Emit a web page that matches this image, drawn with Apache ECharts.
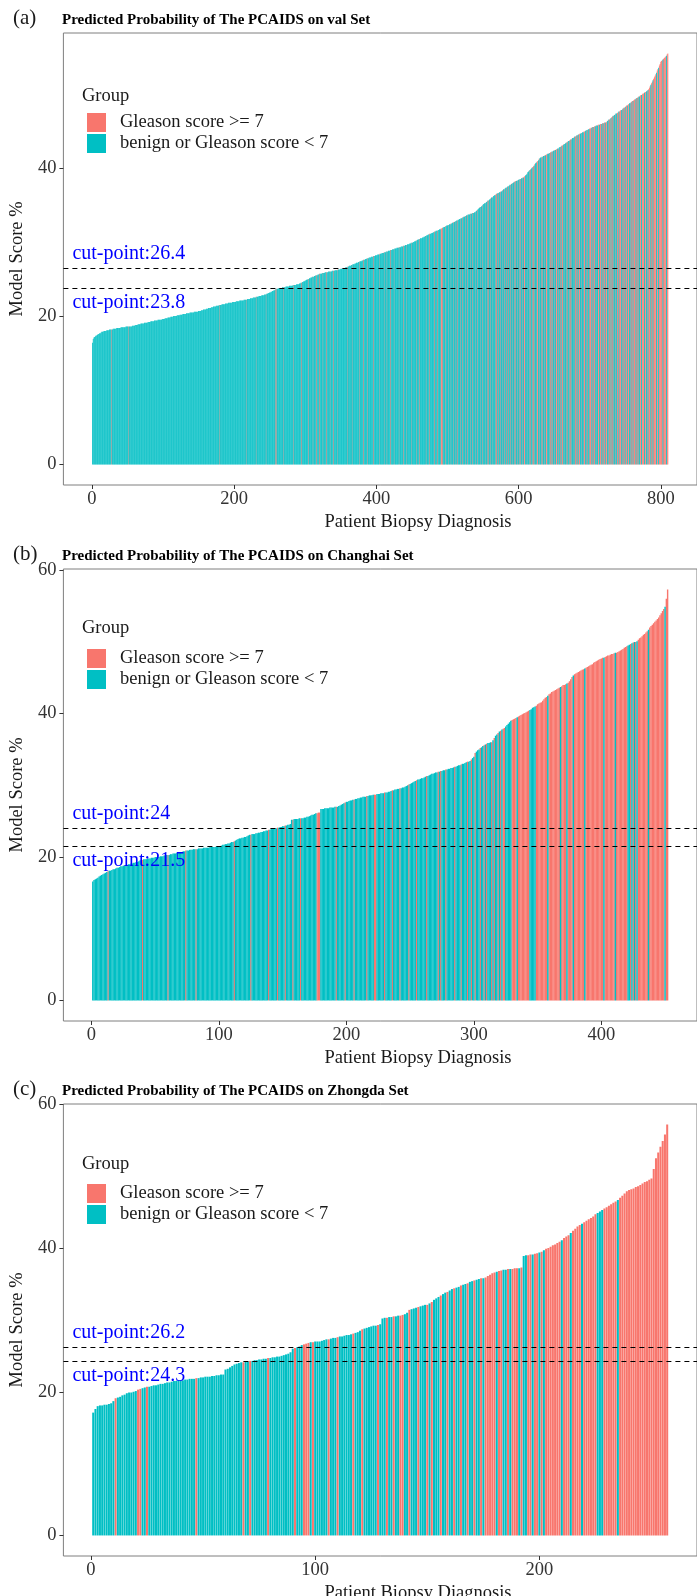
<!DOCTYPE html>
<html>
<head>
<meta charset="utf-8">
<script src="https://cdn.jsdelivr.net/npm/echarts@6.0.0/dist/echarts.min.js"></script>
<style>
  html, body { margin: 0; padding: 0; background: #fff; }
  #main { width: 697px; height: 1596px; }
</style>
</head>
<body>
<div id="main"></div>
<script>
// ---- data: model score (%) per patient, sorted ascending ----
const valScores = [
16.4,16.9,17.1,17.2,17.3,17.4,17.4,17.5,17.6,17.6,
17.7,17.7,17.8,17.9,17.9,17.9,18.0,18.0,18.0,18.0,
18.1,18.1,18.1,18.1,18.2,18.2,18.2,18.2,18.2,18.3,
18.3,18.3,18.3,18.3,18.4,18.4,18.4,18.4,18.4,18.4,
18.5,18.5,18.5,18.5,18.5,18.5,18.5,18.6,18.6,18.6,
18.6,18.6,18.6,18.6,18.6,18.6,18.7,18.7,18.7,18.7,
18.8,18.8,18.8,18.8,18.9,18.9,18.9,18.9,19.0,19.0,
19.0,19.0,19.0,19.1,19.1,19.1,19.1,19.1,19.2,19.2,
19.2,19.2,19.3,19.3,19.3,19.3,19.3,19.4,19.4,19.4,
19.4,19.4,19.5,19.5,19.5,19.5,19.5,19.5,19.6,19.6,
19.6,19.6,19.7,19.7,19.7,19.7,19.8,19.8,19.8,19.8,
19.9,19.9,19.9,19.9,20.0,20.0,20.0,20.0,20.0,20.1,
20.1,20.1,20.1,20.2,20.2,20.2,20.2,20.3,20.3,20.3,
20.3,20.3,20.4,20.4,20.4,20.4,20.4,20.5,20.5,20.5,
20.5,20.5,20.5,20.6,20.6,20.6,20.6,20.6,20.6,20.7,
20.7,20.7,20.7,20.8,20.8,20.8,20.9,20.9,20.9,20.9,
21.0,21.0,21.0,21.1,21.1,21.1,21.1,21.2,21.2,21.2,
21.3,21.3,21.3,21.3,21.4,21.4,21.4,21.4,21.5,21.5,
21.5,21.5,21.6,21.6,21.6,21.6,21.6,21.7,21.7,21.7,
21.7,21.8,21.8,21.8,21.8,21.8,21.8,21.9,21.9,21.9,
21.9,21.9,22.0,22.0,22.0,22.0,22.0,22.1,22.1,22.1,
22.1,22.1,22.1,22.2,22.2,22.2,22.2,22.2,22.3,22.3,
22.3,22.3,22.4,22.4,22.4,22.4,22.5,22.5,22.5,22.5,
22.6,22.6,22.6,22.6,22.7,22.7,22.7,22.7,22.8,22.8,
22.8,22.8,22.9,22.9,22.9,23.0,23.0,23.1,23.1,23.2,
23.2,23.3,23.3,23.4,23.4,23.5,23.5,23.6,23.7,23.7,
23.7,23.7,23.8,23.8,23.8,23.8,23.8,23.9,23.9,23.9,
23.9,23.9,24.0,24.0,24.0,24.0,24.0,24.1,24.1,24.1,
24.1,24.1,24.2,24.2,24.2,24.2,24.2,24.3,24.3,24.3,
24.3,24.4,24.4,24.5,24.5,24.6,24.6,24.7,24.7,24.8,
24.8,24.9,24.9,25.0,25.0,25.1,25.1,25.2,25.2,25.3,
25.3,25.3,25.4,25.4,25.5,25.5,25.5,25.6,25.6,25.7,
25.7,25.7,25.7,25.8,25.8,25.8,25.8,25.9,25.9,25.9,
25.9,25.9,26.0,26.0,26.0,26.0,26.0,26.1,26.1,26.1,
26.1,26.2,26.2,26.2,26.2,26.3,26.3,26.3,26.3,26.4,
26.4,26.4,26.4,26.5,26.5,26.5,26.6,26.6,26.6,26.7,
26.7,26.8,26.8,26.8,26.9,26.9,27.0,27.0,27.0,27.1,
27.1,27.2,27.2,27.2,27.3,27.3,27.4,27.4,27.4,27.5,
27.5,27.6,27.6,27.6,27.7,27.7,27.8,27.8,27.8,27.9,
27.9,27.9,28.0,28.0,28.0,28.1,28.1,28.1,28.2,28.2,
28.2,28.3,28.3,28.3,28.4,28.4,28.4,28.5,28.5,28.5,
28.6,28.6,28.6,28.7,28.7,28.7,28.8,28.8,28.8,28.9,
28.9,28.9,29.0,29.0,29.0,29.1,29.1,29.1,29.2,29.2,
29.2,29.3,29.3,29.3,29.4,29.4,29.4,29.5,29.5,29.5,
29.6,29.6,29.6,29.7,29.7,29.7,29.8,29.8,29.9,29.9,
29.9,30.0,30.0,30.1,30.1,30.2,30.2,30.3,30.3,30.4,
30.4,30.5,30.5,30.5,30.6,30.6,30.7,30.7,30.8,30.8,
30.9,30.9,31.0,31.0,31.1,31.1,31.1,31.2,31.2,31.3,
31.3,31.4,31.4,31.5,31.5,31.5,31.6,31.6,31.7,31.7,
31.8,31.8,31.9,31.9,32.0,32.0,32.1,32.1,32.2,32.2,
32.3,32.3,32.4,32.4,32.5,32.5,32.6,32.6,32.7,32.7,
32.8,32.8,32.9,32.9,33.0,33.0,33.1,33.1,33.2,33.2,
33.3,33.3,33.4,33.4,33.5,33.5,33.6,33.6,33.7,33.7,
33.7,33.8,33.8,33.8,33.9,33.9,33.9,34.0,34.0,34.1,
34.2,34.3,34.4,34.5,34.6,34.7,34.7,34.8,34.9,35.0,
35.1,35.2,35.2,35.3,35.4,35.5,35.6,35.6,35.7,35.8,
35.9,36.0,36.0,36.1,36.2,36.3,36.3,36.4,36.5,36.5,
36.6,36.6,36.7,36.7,36.8,36.8,36.9,37.0,37.1,37.1,
37.2,37.3,37.3,37.4,37.5,37.5,37.6,37.7,37.7,37.8,
37.9,37.9,38.0,38.1,38.1,38.2,38.2,38.3,38.3,38.4,
38.4,38.5,38.5,38.6,38.6,38.7,38.7,38.8,38.9,39.0,
39.1,39.2,39.4,39.5,39.6,39.7,39.8,39.9,40.0,40.1,
40.2,40.3,40.5,40.6,40.7,40.8,40.9,41.0,41.2,41.3,
41.4,41.4,41.5,41.5,41.6,41.6,41.7,41.7,41.8,41.8,
41.9,41.9,42.0,42.0,42.1,42.1,42.2,42.2,42.3,42.3,
42.4,42.4,42.5,42.5,42.6,42.6,42.7,42.8,42.8,42.9,
43.0,43.0,43.1,43.2,43.2,43.3,43.4,43.4,43.5,43.6,
43.6,43.7,43.8,43.8,43.9,44.0,44.0,44.1,44.2,44.2,
44.3,44.4,44.4,44.5,44.5,44.6,44.6,44.7,44.7,44.8,
44.8,44.9,44.9,45.0,45.0,45.1,45.1,45.2,45.2,45.3,
45.3,45.4,45.4,45.5,45.5,45.5,45.6,45.6,45.7,45.7,
45.7,45.8,45.8,45.8,45.9,45.9,45.9,46.0,46.0,46.0,
46.1,46.1,46.1,46.2,46.3,46.4,46.5,46.5,46.6,46.7,
46.8,46.9,47.0,47.0,47.1,47.2,47.3,47.3,47.4,47.5,
47.6,47.6,47.7,47.8,47.8,47.9,48.0,48.1,48.1,48.2,
48.3,48.4,48.4,48.5,48.6,48.7,48.7,48.8,48.9,49.0,
49.0,49.1,49.2,49.2,49.3,49.4,49.4,49.5,49.6,49.6,
49.7,49.8,49.8,49.9,50.0,50.0,50.1,50.2,50.2,50.3,
50.4,50.5,50.6,50.8,51.0,51.2,51.4,51.6,51.8,52.0,
52.2,52.4,52.6,52.8,53.1,53.3,53.5,53.8,54.0,54.3,
54.4,54.5,54.6,54.7,54.8,54.9,55.0,55.1,55.3,55.4
];
// 1 = Gleason score >= 7, 0 = benign or Gleason score < 7
const valGroup = [
'0000000000','0000000000','0000000100','0000000000','0000000000',
'0100000000','0000000000','0000000000','0000000000','0000000000',
'0000000000','0000000000','0000000000','0000000000','0000000000',
'0000000000','0000000000','0000000001','0000000000','0000000000',
'0000000000','0000001000','0000000000','1000000000','0000100000',
'0000000101','0000000001','0000000000','0001000000','0000100000',
'0000100000','1000010001','0000100001','0000100001','0000010000',
'0000000001','0000010000','0000010000','0100000100','0000010000',
'0000100000','1000100001','0000100000','0100000100','0010000001',
'0000001000','1000000001','0000100000','0100010000','1110001000',
'0100100010','0101000100','1000100100','0100100010','0100010010',
'0010010100','1001000110','0100100101','0010010010','1001010010',
'1010010110','0100101001','1010011010','0101001011','0010110100',
'1011010010','1101001010','0110100101','1010110010','0110101001',
'1101011010','0110110101','1011010110','1101010011','0111010110',
'1101101011','0111011010','1101110110','1011101101','1110110111',
'1101111011'
].join('');
const valCuts = [26.4, 23.8];
const valXTicks = [0, 200, 400, 600, 800];
const valYTicks = [0, 20, 40];

const chScores = [
16.6,16.8,16.9,17.0,17.1,17.3,17.4,17.5,17.6,17.7,
17.8,17.9,18.0,18.1,18.1,18.2,18.3,18.3,18.4,18.5,
18.5,18.6,18.7,18.7,18.8,18.8,18.9,18.9,19.0,19.0,
19.1,19.1,19.2,19.2,19.3,19.3,19.4,19.5,19.6,19.6,
19.7,19.7,19.7,19.8,19.8,19.8,19.9,19.9,19.9,20.0,
20.0,20.0,20.0,20.1,20.1,20.1,20.2,20.2,20.3,20.3,
20.3,20.4,20.4,20.5,20.5,20.5,20.6,20.6,20.7,20.7,
20.7,20.8,20.8,20.9,20.9,20.9,21.0,21.0,21.0,21.1,
21.1,21.1,21.1,21.2,21.2,21.2,21.2,21.3,21.3,21.3,
21.3,21.3,21.4,21.4,21.4,21.4,21.4,21.5,21.5,21.5,
21.5,21.6,21.7,21.7,21.8,21.8,21.9,21.9,22.0,22.1,
22.1,22.2,22.3,22.4,22.5,22.6,22.6,22.7,22.7,22.8,
22.8,22.9,23.0,23.1,23.1,23.2,23.2,23.2,23.3,23.3,
23.4,23.4,23.5,23.5,23.6,23.6,23.7,23.7,23.8,23.8,
23.9,23.9,24.0,24.0,24.0,24.1,24.1,24.2,24.2,24.3,
24.3,24.4,24.4,24.5,24.5,24.6,25.2,25.2,25.3,25.3,
25.3,25.3,25.4,25.4,25.4,25.4,25.5,25.5,25.6,25.6,
25.7,25.8,25.9,25.9,26.0,26.1,26.1,26.2,26.2,26.7,
26.7,26.7,26.8,26.8,26.8,26.8,26.9,26.9,26.9,26.9,
27.0,27.0,27.0,27.1,27.2,27.3,27.4,27.5,27.6,27.7,
27.7,27.8,27.9,27.9,28.0,28.0,28.1,28.1,28.2,28.2,
28.3,28.3,28.4,28.4,28.4,28.5,28.5,28.6,28.6,28.6,
28.7,28.7,28.7,28.8,28.8,28.8,28.9,28.9,28.9,29.0,
29.0,29.0,29.1,29.1,29.2,29.3,29.3,29.4,29.4,29.5,
29.5,29.6,29.6,29.7,29.7,29.8,29.9,30.0,30.1,30.2,
30.3,30.4,30.5,30.6,30.7,30.8,30.8,30.9,31.0,31.0,
31.1,31.2,31.3,31.3,31.4,31.5,31.6,31.6,31.7,31.8,
31.8,31.9,31.9,32.0,32.0,32.1,32.1,32.2,32.2,32.3,
32.3,32.4,32.4,32.5,32.6,32.6,32.7,32.8,32.8,32.9,
33.0,33.0,33.1,33.2,33.3,33.3,33.4,33.6,33.8,34.0,
34.5,34.7,34.9,35.0,35.2,35.3,35.5,35.6,35.7,35.8,
35.9,35.9,36.0,36.0,36.3,36.6,36.9,37.1,37.3,37.5,
37.6,37.8,37.9,38.0,38.2,38.4,38.6,38.8,39.0,39.1,
39.2,39.3,39.4,39.5,39.6,39.7,39.8,39.9,40.0,40.1,
40.2,40.3,40.4,40.5,40.6,40.8,40.9,41.0,41.1,41.3,
41.4,41.5,41.6,41.8,42.0,42.2,42.3,42.5,42.7,42.8,
43.0,43.1,43.2,43.3,43.4,43.5,43.6,43.7,43.8,44.0,
44.0,44.1,44.2,44.3,44.5,44.8,45.1,45.3,45.5,45.6,
45.7,45.8,45.9,46.0,46.1,46.2,46.3,46.4,46.5,46.6,
46.7,46.8,46.9,47.1,47.2,47.3,47.4,47.5,47.6,47.7,
47.8,47.8,47.9,48.0,48.1,48.1,48.2,48.3,48.3,48.4,
48.5,48.5,48.6,48.7,48.8,48.9,49.0,49.2,49.3,49.4,
49.5,49.6,49.7,49.8,49.9,50.0,50.0,50.1,50.3,50.5,
50.6,50.8,51.0,51.1,51.3,51.5,51.7,52.0,52.2,52.4,
52.6,52.8,53.0,53.2,53.4,53.7,54.0,54.3,54.6,54.9,
56.0,57.3
];
const chGroup = [
'0000000000','0010000000','0000000000','0000000001','0000000000',
'0000000001','0000000000','0001000000','0100000000','0000000000',
'0000000000','0100000000','0000100000','0000000010','0000010000',
'0100000100','0001000000','0000001110','0000000000','0100000010',
'0000010000','0000010000','0110000001','0000010000','0100000010',
'0000100000','0010000000','0101000100','0000100001','0000100100',
'1000100101','0001010010','1011000001','1110111111','1110000011',
'1111111011','1111111011','1101111011','1111110111','1111111111',
'1011111111','0111111111','0010101011','1111110111','1111111110',
'11'
].join('');
const chCuts = [24, 21.5];
const chXTicks = [0, 100, 200, 300, 400];
const chYTicks = [0, 20, 40, 60];

const zdScores = [
17.1,17.6,18.0,18.1,18.1,18.2,18.2,18.3,18.4,18.7,
19.1,19.2,19.3,19.5,19.6,19.8,19.9,19.9,20.0,20.1,
20.3,20.4,20.5,20.6,20.7,20.7,20.8,20.9,20.9,21.0,
21.1,21.1,21.2,21.3,21.3,21.4,21.5,21.5,21.6,21.6,
21.6,21.7,21.7,21.8,21.8,21.8,21.9,21.9,22.0,22.0,
22.1,22.1,22.1,22.2,22.2,22.3,22.3,22.4,22.4,23.1,
23.2,23.4,23.6,23.8,23.9,24.0,24.1,24.1,24.2,24.2,
24.3,24.3,24.4,24.4,24.5,24.5,24.6,24.6,24.7,24.7,
24.8,24.8,24.9,24.9,25.0,25.1,25.2,25.3,25.5,26.0,
26.1,26.2,26.3,26.5,26.6,26.7,26.8,26.9,26.9,27.0,
27.0,27.0,27.1,27.2,27.3,27.3,27.4,27.5,27.5,27.6,
27.7,27.7,27.8,27.9,27.9,28.0,28.1,28.2,28.3,28.5,
28.7,28.8,28.9,29.0,29.1,29.2,29.2,29.3,29.4,30.2,
30.3,30.3,30.4,30.4,30.5,30.5,30.6,30.6,30.7,30.8,
31.0,31.4,31.5,31.6,31.7,31.8,31.9,32.0,32.1,32.1,
32.3,32.5,32.8,33.0,33.2,33.4,33.6,33.8,33.9,34.1,
34.3,34.4,34.5,34.6,34.8,34.9,35.0,35.1,35.3,35.4,
35.5,35.6,35.7,35.8,35.8,35.9,36.1,36.3,36.5,36.6,
36.7,36.8,36.9,37.0,37.0,37.1,37.1,37.1,37.2,37.2,
37.2,37.3,38.9,39.0,39.0,39.1,39.1,39.2,39.3,39.4,
39.5,39.7,39.9,40.0,40.2,40.4,40.5,40.7,40.9,41.1,
41.4,41.6,41.8,42.1,42.4,42.7,43.0,43.2,43.4,43.6,
43.8,44.0,44.2,44.4,44.7,44.9,45.1,45.3,45.5,45.7,
45.9,46.1,46.3,46.5,46.7,47.0,47.3,47.6,47.9,48.1,
48.2,48.3,48.5,48.6,48.8,49.0,49.2,49.3,49.5,49.7,
51.0,52.5,53.3,54.1,54.9,55.8,57.2
];
const zdGroup = [
'0000000000','1000000000','1100100000','0000000000','0000001000',
'0000000000','0000000100','1000000010','0000000000','1000111010',
'0000010001','0000001000','1000000100','0100100110','0100010001',
'0100010010','0100100100','1001011111','0110010111','0100110110',
'1011111110','1110111101','1111100011','1111011111','1111111111',
'1111111'
].join('');
const zdCuts = [26.2, 24.3];
const zdXTicks = [0, 100, 200];
const zdYTicks = [0, 20, 40, 60];

const groupNames = ['Gleason score >= 7', 'benign or Gleason score < 7'];

// ---- layout / style ----
const RED = '#F8766D', TEAL = '#00BFC4';
const SERIF = '"Liberation Serif", "Times New Roman", serif';
const PANEL_H = 452;

// thin bars are drawn a bit wider than their slot so neighbours close up without seams
const panels = [
  { tag: '(a)', title: 'Predicted Probability of The PCAIDS on val Set', scores: valScores, group: valGroup,
    cuts: valCuts, xTicks: valXTicks, yTicks: valYTicks, top: 33, groupY: 96.5, barWidth: '115%' },
  { tag: '(b)', title: 'Predicted Probability of The PCAIDS on Changhai Set', scores: chScores, group: chGroup,
    cuts: chCuts, xTicks: chXTicks, yTicks: chYTicks, top: 569, groupY: 628.5, barWidth: '110%' },
  { tag: '(c)', title: 'Predicted Probability of The PCAIDS on Zhongda Set', scores: zdScores, group: zdGroup,
    cuts: zdCuts, xTicks: zdXTicks, yTicks: zdYTicks, top: 1104, groupY: 1164, barWidth: '90%' }
];

let chart = echarts.init(document.getElementById('main'));

let option = {
  animation: false,
  backgroundColor: '#fff',
  grid: [], xAxis: [], yAxis: [], series: [], legend: [], graphic: []
};

panels.forEach((p, k) => {
  const n = p.scores.length;
  const ymax = Math.max(...p.scores);
  const xpad = 0.05 * (n - 0.1);
  const xmin = 0.55 - xpad;

  option.grid.push({
    left: 61, right: -8, top: p.top, height: PANEL_H,
    show: true, borderColor: '#7f7f7f', borderWidth: 1
  });
  option.xAxis.push({
    type: 'value', gridIndex: k, min: xmin, max: n + 0.45 + xpad,
    axisLine: { show: false, onZero: false }, splitLine: { show: false },
    axisTick: { customValues: p.xTicks, length: 4, lineStyle: { color: '#333' } },
    axisLabel: { customValues: p.xTicks, margin: 5, fontSize: 18.5, fontFamily: SERIF, color: '#333' }
  });
  option.yAxis.push({
    type: 'value', gridIndex: k, min: -0.05 * ymax, max: 1.05 * ymax,
    name: 'Model Score %', nameLocation: 'middle', nameGap: 23,
    nameTextStyle: { fontSize: 18.5, fontFamily: SERIF, color: '#1a1a1a' },
    axisLine: { show: false, onZero: false }, splitLine: { show: false },
    axisTick: { customValues: p.yTicks, length: 4, lineStyle: { color: '#333' } },
    axisLabel: { customValues: p.yTicks, margin: 7, fontSize: 18.5, fontFamily: SERIF, color: '#333' }
  });

  let red = [], teal = [];
  p.scores.forEach((v, i) => {
    if (p.group[i] === '1') red.push([i + 1, v]);
    else teal.push([i + 1, v]);
  });

  const barBase = {
    type: 'bar', xAxisIndex: k, yAxisIndex: k, large: false, silent: true,
    barGap: '-100%', barWidth: p.barWidth, barMinWidth: 0.1
  };
  // red first, teal drawn on top (thin red bars blend into the teal like the original)
  option.series.push(Object.assign({}, barBase, {
    name: groupNames[0], data: red, itemStyle: { color: RED }
  }));
  option.series.push(Object.assign({}, barBase, {
    name: groupNames[1], data: teal, itemStyle: { color: TEAL },
    markLine: {
      silent: true, symbol: ['none', 'none'], label: { show: false },
      lineStyle: { type: [5, 4], color: '#000', width: 1 },
      data: p.cuts.map(c => ({ yAxis: c }))
    },
    markPoint: {
      silent: true, symbol: 'circle', symbolSize: 0,
      label: {
        show: true, position: 'right', distance: 9,
        fontSize: 20, fontFamily: SERIF, color: '#0000FF',
        formatter: d => d.name
      },
      // labels sit 2 units above the upper cut and 2 below the lower one
      data: p.cuts.map((c, j) => ({
        name: 'cut-point:' + c,
        coord: [xmin, j === 0 ? c + 2 : c - 2]
      }))
    }
  }));

  option.legend.push({
    left: 87, top: p.top + 80, orient: 'vertical', padding: 0,
    itemWidth: 19, itemHeight: 19, itemGap: 2, icon: 'rect', selectedMode: false,
    data: groupNames,
    textStyle: { fontSize: 18.5, fontFamily: SERIF, color: '#1a1a1a', padding: [0, 0, 0, 9] }
  });

  option.graphic.push(
    { type: 'text', x: 13, y: p.top - 14.5,
      style: { text: p.tag, font: '21px ' + SERIF, fill: '#1a1a1a', verticalAlign: 'middle' } },
    { type: 'text', x: 62, y: p.top - 13,
      style: { text: p.title, font: 'bold 15px ' + SERIF, fill: '#000', verticalAlign: 'middle' } },
    { type: 'text', x: 82, y: p.groupY,
      style: { text: 'Group', font: '18.5px ' + SERIF, fill: '#1a1a1a', verticalAlign: 'middle' } },
    { type: 'text', x: 418, y: p.top + PANEL_H + 37,
      style: { text: 'Patient Biopsy Diagnosis', font: '18.5px ' + SERIF, fill: '#1a1a1a',
               align: 'center', verticalAlign: 'middle' } }
  );
});

chart.setOption(option);
</script>
</body>
</html>
